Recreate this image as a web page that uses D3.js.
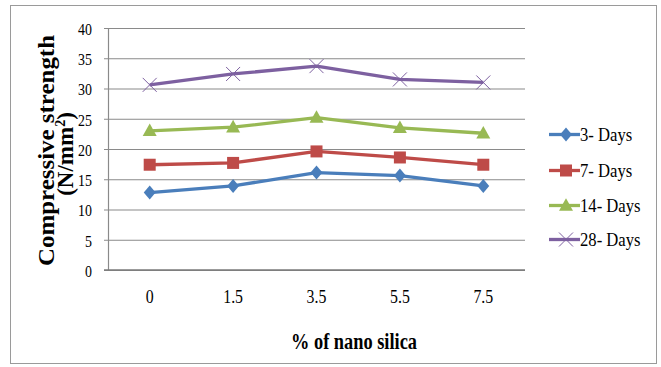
<!DOCTYPE html>
<html>
<head>
<meta charset="utf-8">
<script src="https://cdn.jsdelivr.net/npm/d3@7"></script>
<style>
  html, body { margin: 0; padding: 0; background: #fff; }
  svg { display: block; }
  svg text { font-family: "Liberation Serif", "Times New Roman", Tinos, serif !important; fill: #000; }
</style>
</head>
<body>
<svg id="chart" width="661" height="367"></svg>
<script>
// Compressive strength (N/mm²) by nano silica content, per curing age
const categories = ["0", "1.5", "3.5", "5.5", "7.5"];
const days3  = [12.8, 13.9, 16.1, 15.6, 13.9];
const days7  = [17.4, 17.7, 19.6, 18.6, 17.4];
const days14 = [23.0, 23.6, 25.2, 23.5, 22.6];
const days28 = [30.6, 32.4, 33.7, 31.5, 31.0];
const seriesNames = ["3- Days", "7- Days", "14- Days", "28- Days"];
const yTicks = [0, 5, 10, 15, 20, 25, 30, 35, 40];

const series = [
  { name: seriesNames[0], values: days3,  color: "#4A7EBB", marker: "diamond" },
  { name: seriesNames[1], values: days7,  color: "#BE4B48", marker: "square" },
  { name: seriesNames[2], values: days14, color: "#98B954", marker: "triangle" },
  { name: seriesNames[3], values: days28, color: "#7D60A0", marker: "x" }
];

const svg = d3.select("#chart");

// outer frame
svg.append("rect")
  .attr("x", 10.5).attr("y", 5.5)
  .attr("width", 646).attr("height", 358)
  .attr("fill", "none").attr("stroke", "#9a9a9a").attr("stroke-width", 1);

const plot = { left: 108, right: 525, top: 28, bottom: 270 };

const x = d3.scaleBand().domain(categories).range([plot.left, plot.right]);
const y = d3.scaleLinear().domain([0, 40]).range([plot.bottom, plot.top]);

// horizontal gridlines with outward ticks
const yAxis = d3.axisLeft(y).tickValues(yTicks)
  .tickSize(-(plot.right - plot.left)).tickSizeOuter(0).tickPadding(0)
  .tickFormat(d3.format("d"));
const gy = svg.append("g").attr("transform", `translate(${plot.left},0)`).call(yAxis);
gy.attr("font-family", null);
gy.select(".domain").attr("stroke", "#8a8a8a").attr("stroke-width", 1.2);
gy.selectAll(".tick line").attr("stroke", "#8a8a8a").attr("stroke-width", 1.2).attr("x1", -4);
gy.selectAll(".tick text")
  .attr("x", null)
  .attr("transform", "translate(-16,1) scale(0.82,1)")
  .style("font-size", "17px")
  .attr("fill", "#000");

// category axis
const xAxis = d3.axisBottom(x).tickSize(0).tickPadding(0);
const gx = svg.append("g").attr("transform", `translate(0,${plot.bottom})`).call(xAxis);
gx.attr("font-family", null);
gx.select(".domain").attr("stroke", "#7a7a7a").attr("stroke-width", 1.6)
  .attr("d", `M${plot.left - 4},0H${plot.right}`);
gx.selectAll(".tick text")
  .attr("y", null).attr("dy", null)
  .attr("transform", "translate(0,33) scale(0.88,1)")
  .style("font-size", "18px")
  .attr("fill", "#000");

// marker shapes
function drawMarker(g, type, cx, cy, color, scale) {
  const s = scale || 1;
  if (type === "diamond") {
    const r = 7 * s;
    g.append("path").attr("d", `M${cx},${cy - r}L${cx + r * 0.85},${cy}L${cx},${cy + r}L${cx - r * 0.85},${cy}Z`)
      .attr("fill", color);
  } else if (type === "square") {
    const h = 6 * s;
    g.append("rect").attr("x", cx - h).attr("y", cy - h).attr("width", 2 * h).attr("height", 2 * h)
      .attr("fill", color);
  } else if (type === "triangle") {
    const r = 7 * s;
    g.append("path").attr("d", `M${cx},${cy - r * 1.05}L${cx + r},${cy + r * 0.75}L${cx - r},${cy + r * 0.75}Z`)
      .attr("fill", color);
  } else if (type === "x") {
    const r = 7 * s;
    g.append("path").attr("d", `M${cx - r},${cy - r}L${cx + r},${cy + r}M${cx - r},${cy + r}L${cx + r},${cy - r}`)
      .attr("stroke", color).attr("stroke-width", 1).attr("fill", "none");
  }
}

const line = d3.line()
  .x((d, i) => x(categories[i]) + x.bandwidth() / 2)
  .y(d => y(d));

series.forEach(s => {
  const g = svg.append("g");
  g.append("path").datum(s.values)
    .attr("d", line)
    .attr("fill", "none").attr("stroke", s.color).attr("stroke-width", 3.3)
    .attr("stroke-linejoin", "round");
  s.values.forEach((v, i) => {
    drawMarker(g, s.marker, x(categories[i]) + x.bandwidth() / 2, y(v), s.color, 1);
  });
});

// legend
const legendY = [134.5, 170.5, 205.5, 239.5];
series.forEach((s, i) => {
  const g = svg.append("g");
  const ly = legendY[i];
  g.append("line").attr("x1", 549).attr("x2", 580).attr("y1", ly).attr("y2", ly)
    .attr("stroke", s.color).attr("stroke-width", 3.3);
  drawMarker(g, s.marker, 566, ly, s.color, 1);
  g.append("text").attr("transform", `translate(580,${ly + 6}) scale(0.9,1)`)
    .style("font-size", "18.5px").text(s.name);
});

// axis titles
svg.append("text")
  .attr("x", 354).attr("y", 349)
  .attr("text-anchor", "middle")
  .attr("textLength", 126).attr("lengthAdjust", "spacingAndGlyphs")
  .style("font-size", "24px").style("font-weight", "bold")
  .text("% of nano silica");

svg.append("text")
  .attr("transform", "translate(54,150.5) rotate(-90)")
  .attr("text-anchor", "middle")
  .attr("textLength", 231).attr("lengthAdjust", "spacingAndGlyphs")
  .style("font-size", "23px").style("font-weight", "bold")
  .text("Compressive strength");

const t2 = svg.append("text")
  .attr("transform", "translate(73,154) rotate(-90)")
  .attr("text-anchor", "middle")
  .style("font-size", "23px").style("font-weight", "bold");
t2.append("tspan").text("(N/mm");
t2.append("tspan").attr("dy", -8).style("font-size", "14px").text("2");
t2.append("tspan").attr("dy", 8).text(")");
</script>
</body>
</html>
